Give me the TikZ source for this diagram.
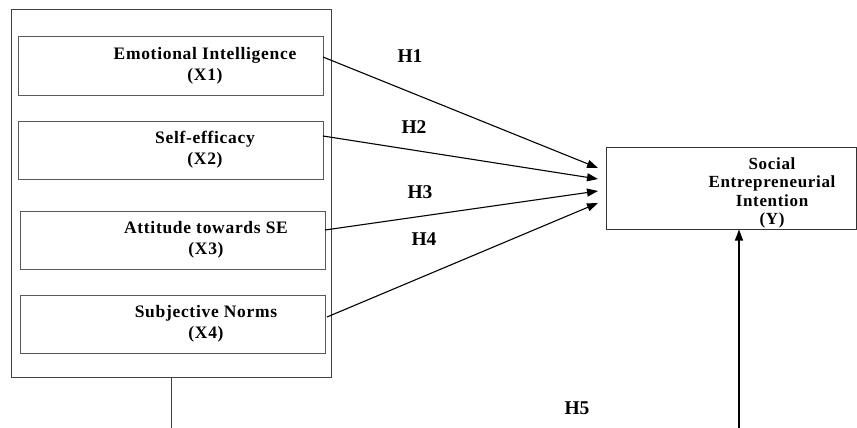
\documentclass[tikz,border=0pt]{standalone}
\usepackage{fontspec}
\setmainfont{Liberation Serif}
\newfontfamily\boxfont[LetterSpace=4]{Liberation Serif}
\usetikzlibrary{arrows.meta}
\begin{document}
\begin{tikzpicture}[x=1pt,y=-1pt,
  box/.style={draw=black!65,line width=1pt,minimum width=#1,inner sep=0pt},
  lbl/.style={font=\boxfont\bfseries\fontsize{17.5}{21}\selectfont,align=center,inner sep=0pt},
  hyp/.style={font=\bfseries\fontsize{19.5}{22}\selectfont,inner sep=0pt},
  arr/.style={line width=1.1pt,-{Triangle[length=11pt,width=8pt]}}]
\useasboundingbox (0,0) rectangle (857,428);
% outer frame
\node[box=320pt,minimum height=367pt,draw=black!75] (outer) at (171,193.5) {};
% predictor boxes
\node[box=305pt,minimum height=58pt] (x1) at (170.5,66) {};
\node[box=305pt,minimum height=58pt] (x2) at (170.5,150) {};
\node[box=305pt,minimum height=58pt] (x3) at (172.5,240) {};
\node[box=305pt,minimum height=58pt] (x4) at (172.5,324) {};
\node[lbl] (x1t) at (205,65.5) {Emotional Intelligence\\(X1)};
\node[lbl] (x2t) at (205,149.5) {Self-efficacy\\(X2)};
\node[lbl] (x3t) at (206,239.5) {Attitude towards SE\\(X3)};
\node[lbl] (x4t) at (206,323.5) {Subjective Norms\\(X4)};
% outcome box
\node[box=250pt,minimum height=82pt,draw=black!80] (y) at (731,188) {};
\node[lbl,font=\boxfont\bfseries\fontsize{17}{18.5}\selectfont] (yt) at (772,193) {Social\\Entrepreneurial\\Intention\\(Y)};
% connection points
\coordinate (s1) at (323,57);
\coordinate (s2) at (323,136);
\coordinate (s3) at (325,230);
\coordinate (s4) at (327,317);
\coordinate (t1) at (598,168);
\coordinate (t2) at (598,179);
\coordinate (t3) at (598,191);
\coordinate (t4) at (598,203);
\draw[arr] (s1) -- (t1);
\draw[arr] (s2) -- (t2);
\draw[arr] (s3) -- (t3);
\draw[arr] (s4) -- (t4);
% hypotheses labels
\node[hyp] (h1) at (410,56) {H1};
\node[hyp] (h2) at (414,127) {H2};
\node[hyp] (h3) at (420,192) {H3};
\node[hyp] (h4) at (424,239) {H4};
\node[hyp] (h5) at (577,408) {H5};
% moderator path (cut at bottom)
\coordinate (d1) at (outer.south |- 0,428);
\coordinate (d2) at (739,428);
\draw[line width=1pt,black!75] (outer.south) -- (d1);
\draw[arr] (d2) -- (d2 |- y.south);
\end{tikzpicture}
\end{document}
